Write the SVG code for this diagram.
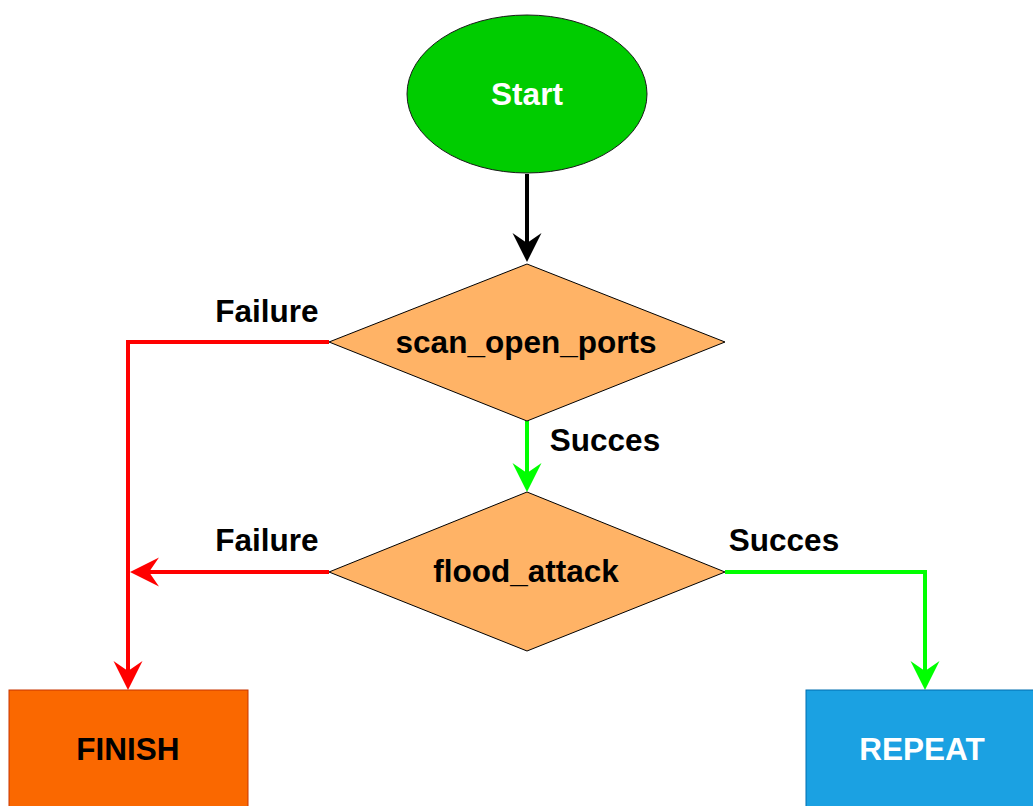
<svg xmlns="http://www.w3.org/2000/svg" width="1033" height="806" viewBox="0 0 1033 806">
<defs>
<style>
.lbl{font-family:"Liberation Sans",Arial,sans-serif;font-weight:bold;font-size:31.5px;text-anchor:middle}
.w{fill:#ffffff}
.k{fill:#000000}
.dia{fill:#FFB366;stroke:#000000;stroke-width:1}
.edge{fill:none;stroke-width:4}
</style>
<marker id="ak" markerUnits="userSpaceOnUse" viewBox="-32 -16 34 32" markerWidth="34" markerHeight="32" refX="-8" refY="0" orient="auto"><path d="M0,0 L-29,-14.5 L-19,0 L-29,14.5 Z" fill="#000000"/></marker>
<marker id="ar" markerUnits="userSpaceOnUse" viewBox="-32 -16 34 32" markerWidth="34" markerHeight="32" refX="-8" refY="0" orient="auto"><path d="M0,0 L-29,-14.5 L-19,0 L-29,14.5 Z" fill="#FF0000"/></marker>
<marker id="ag" markerUnits="userSpaceOnUse" viewBox="-32 -16 34 32" markerWidth="34" markerHeight="32" refX="-8" refY="0" orient="auto"><path d="M0,0 L-29,-14.5 L-19,0 L-29,14.5 Z" fill="#00FF00"/></marker>
</defs>
<rect width="1033" height="806" fill="#ffffff"/>
<g id="connectors">
<path class="edge" stroke="#000000" d="M527,174 V254" marker-end="url(#ak)"/>
<path class="edge" stroke="#FF0000" d="M329,342 H128 V682" marker-end="url(#ar)"/>
<path class="edge" stroke="#00FF00" d="M527,421 V484" marker-end="url(#ag)"/>
<path class="edge" stroke="#FF0000" d="M329,572 H138" marker-end="url(#ar)"/>
<path class="edge" stroke="#00FF00" d="M725,572 H925 V682" marker-end="url(#ag)"/>
<text class="lbl k" x="267" y="322">Failure</text>
<text class="lbl k" x="605" y="451">Succes</text>
<text class="lbl k" x="267" y="551">Failure</text>
<text class="lbl k" x="784" y="551">Succes</text>
</g>
<g id="start">
<ellipse cx="527" cy="94" rx="120" ry="79" fill="#00CC00" stroke="#1a1a1a" stroke-width="1"/>
<text class="lbl w" x="527" y="105">Start</text>
</g>
<g id="scan_open_ports">
<polygon class="dia" points="527,264 725,342 527,421 329,342"/>
<text class="lbl k" x="526" y="353">scan_open_ports</text>
</g>
<g id="flood_attack">
<polygon class="dia" points="527,492 725,572 527,651 329,572"/>
<text class="lbl k" x="526" y="582">flood_attack</text>
</g>
<g id="finish">
<rect x="9" y="690" width="239" height="130" fill="#FA6800" stroke="#C73500" stroke-width="1"/>
<text class="lbl k" x="128" y="760">FINISH</text>
</g>
<g id="repeat">
<rect x="806" y="690" width="240" height="130" fill="#1BA1E2" stroke="#006EAF" stroke-width="1"/>
<text class="lbl w" x="922" y="760">REPEAT</text>
</g>
</svg>
